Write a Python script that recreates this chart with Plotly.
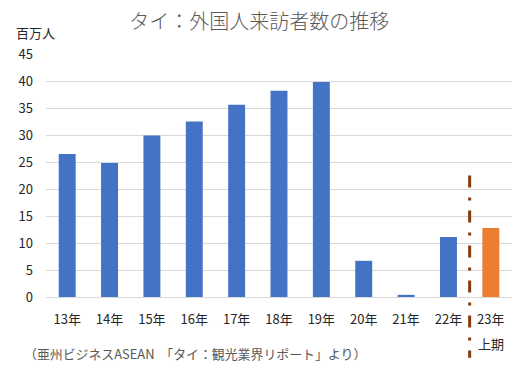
import plotly.graph_objects as go

categories = ["13年", "14年", "15年", "16年", "17年", "18年", "19年", "20年", "21年", "22年", "23年"]
visitors = [26.5, 24.8, 29.9, 32.5, 35.6, 38.2, 39.8, 6.7, 0.4, 11.1, 12.8]
bar_colors = ["#4472C4"] * 10 + ["#ED7D31"]
y_ticks = [0, 5, 10, 15, 20, 25, 30, 35, 40, 45]

title_text = "タイ：外国人来訪者数の推移"
unit_text = "百万人"
period_text = "上期"
source_text = "（亜州ビジネスASEAN  「タイ：観光業界リポート」より）"

FONT = "Noto Sans CJK JP"

fig = go.Figure()
fig.add_trace(go.Bar(
    x=categories,
    y=visitors,
    marker=dict(color=bar_colors, line=dict(width=0)),
    width=0.4,
    hoverinfo="x+y",
))

fig.update_layout(
    width=529,
    height=373,
    margin=dict(l=46, r=17, t=54, b=76),
    paper_bgcolor="white",
    plot_bgcolor="white",
    showlegend=False,
    font=dict(family=FONT, size=13, color="#404040"),
    title=dict(
        text=title_text,
        x=0.49, xanchor="center",
        y=0.94, yanchor="middle",
        font=dict(family=FONT, size=20, color="#595959", weight=300),
    ),
    xaxis=dict(
        type="category",
        showgrid=False,
        showline=False,
        ticks="",
        automargin=False,
        tickfont=dict(family=FONT, size=13, color="#262626"),
        ticklabelstandoff=13,
    ),
    yaxis=dict(
        range=[0, 45],
        tickvals=y_ticks,
        showgrid=True,
        gridcolor="#D9D9D9",
        gridwidth=1,
        zeroline=True,
        zerolinecolor="#D9D9D9",
        zerolinewidth=1,
        showline=False,
        ticks="",
        automargin=False,
        tickfont=dict(family=FONT, size=13, color="#262626"),
        ticklabelstandoff=12,
    ),
)

# dash-dot separator between 22年 and 23年上期
fig.add_shape(
    type="line",
    xref="x", yref="paper",
    x0=9.5, x1=9.5,
    y0=0.5, y1=-0.25,
    line=dict(color="#843C0C", width=3, dash="12px,10px,3px,10px"),
)

# second line of the last category label
fig.add_annotation(
    text=period_text, xref="x", yref="paper",
    x=10, y=-0.193, xanchor="center", yanchor="middle",
    showarrow=False, font=dict(family=FONT, size=13, color="#262626"),
)
fig.add_annotation(
    text=unit_text, xref="paper", yref="paper",
    x=-0.069, y=1.09, xanchor="left", yanchor="middle",
    showarrow=False, font=dict(family=FONT, size=13, color="#262626"),
)
fig.add_annotation(
    text=source_text, xref="paper", yref="paper",
    x=-0.052, y=-0.232, xanchor="left", yanchor="middle",
    showarrow=False, font=dict(family=FONT, size=12.9, color="#595959"),
)

fig.write_html(
    "out.html",
    config={"displayModeBar": False},
    post_script="document.body.style.margin='0px';",
)
